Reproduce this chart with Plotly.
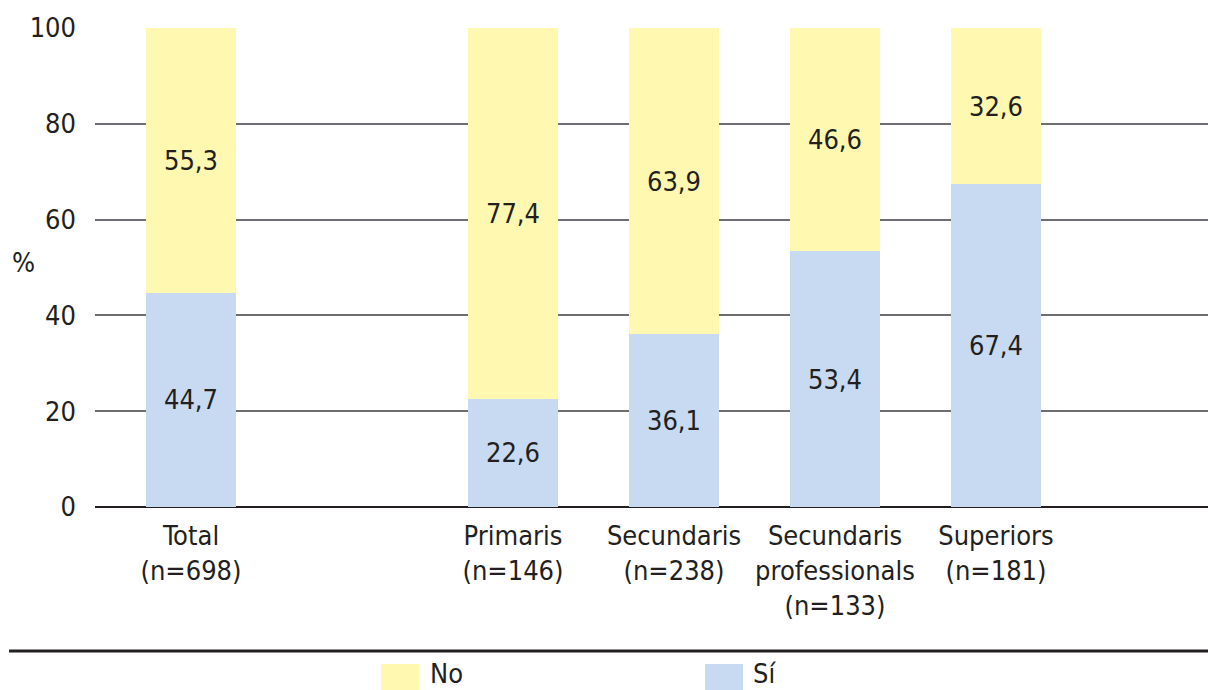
import plotly.graph_objects as go

# ---- data ----
categories = ["Total<br>(n=698)", "Primaris<br>(n=146)", "Secundaris<br>(n=238)",
              "Secundaris<br>professionals<br>(n=133)", "Superiors<br>(n=181)"]
si_values = [44.7, 22.6, 36.1, 53.4, 67.4]
no_values = [55.3, 77.4, 63.9, 46.6, 32.6]
y_ticks = [0, 20, 40, 60, 80, 100]
series_names = ["No", "Sí"]

# ---- style / layout ----
positions = [0, 2, 3, 4, 5]          # gap after "Total"
COL_NO = "#FFF8B0"
COL_SI = "#C7DAF1"
TXT = "#231F20"
FONT = "DejaVu Sans Condensed, Liberation Sans Narrow, sans-serif"
FS = 27

W, H = 1208, 690
ML, MR, MT, MB = 95, 0, 28, 183
PW = W - ML - MR
PH = H - MT - MB

def px(x):
    return (x - ML) / PW

def py(y):
    return (H - MB - y) / PH

fig = go.Figure()
fig.add_trace(go.Bar(x=positions, y=si_values, name=series_names[1], marker_color=COL_SI,
                     marker_line_width=0, width=0.56, texttemplate="%{y:.1f}",
                     textposition="inside", insidetextanchor="middle",
                     textfont=dict(family=FONT, size=FS, color=TXT), showlegend=False))
fig.add_trace(go.Bar(x=positions, y=no_values, name=series_names[0], marker_color=COL_NO,
                     marker_line_width=0, width=0.56, texttemplate="%{y:.1f}",
                     textposition="inside", insidetextanchor="middle",
                     textfont=dict(family=FONT, size=FS, color=TXT), showlegend=False))

shapes = [
    dict(type="line", xref="paper", yref="paper", x0=px(9), x1=1.0, y0=py(651), y1=py(651),
         line=dict(color=TXT, width=3)),
    dict(type="rect", xref="paper", yref="paper", x0=px(381), x1=px(419), y0=py(664), y1=py(692),
         fillcolor=COL_NO, line_width=0),
    dict(type="rect", xref="paper", yref="paper", x0=px(705), x1=px(743), y0=py(664), y1=py(692),
         fillcolor=COL_SI, line_width=0),
]
annotations = [
    dict(text=series_names[0], xref="paper", yref="paper", x=px(428), y=py(674), xanchor="left",
         yanchor="middle", showarrow=False, font=dict(family=FONT, size=FS, color=TXT)),
    dict(text=series_names[1], xref="paper", yref="paper", x=px(751), y=py(674), xanchor="left",
         yanchor="middle", showarrow=False, font=dict(family=FONT, size=FS, color=TXT)),
    dict(text="%", xref="paper", yref="paper", x=px(10), y=py(262), xanchor="left",
         yanchor="middle", showarrow=False, font=dict(family=FONT, size=FS, color=TXT)),
]

fig.update_layout(
    width=W, height=H, barmode="stack", separators=",.",
    margin=dict(l=ML, r=MR, t=MT, b=MB, pad=0),
    paper_bgcolor="white", plot_bgcolor="white",
    font=dict(family=FONT, size=FS, color=TXT),
    shapes=shapes, annotations=annotations,
    xaxis=dict(range=[(ML - 191) / 161, (W - MR - 191) / 161], tickvals=positions,
               ticktext=categories, showgrid=False, zeroline=False, showline=False,
               ticks="", ticklabelstandoff=10, tickfont=dict(family=FONT, size=FS, color=TXT)),
    yaxis=dict(range=[0, 100], tickvals=y_ticks, showgrid=True, gridcolor="#6D6E71",
               gridwidth=1.5, zeroline=True, zerolinecolor=TXT, zerolinewidth=1.5,
               showline=False, ticks="", ticklabelstandoff=18,
               tickfont=dict(family=FONT, size=FS, color=TXT)),
)

fig.write_html("out.html", config={"displayModeBar": False},
               post_script="document.body.style.margin='0px';document.body.style.overflow='hidden';")
